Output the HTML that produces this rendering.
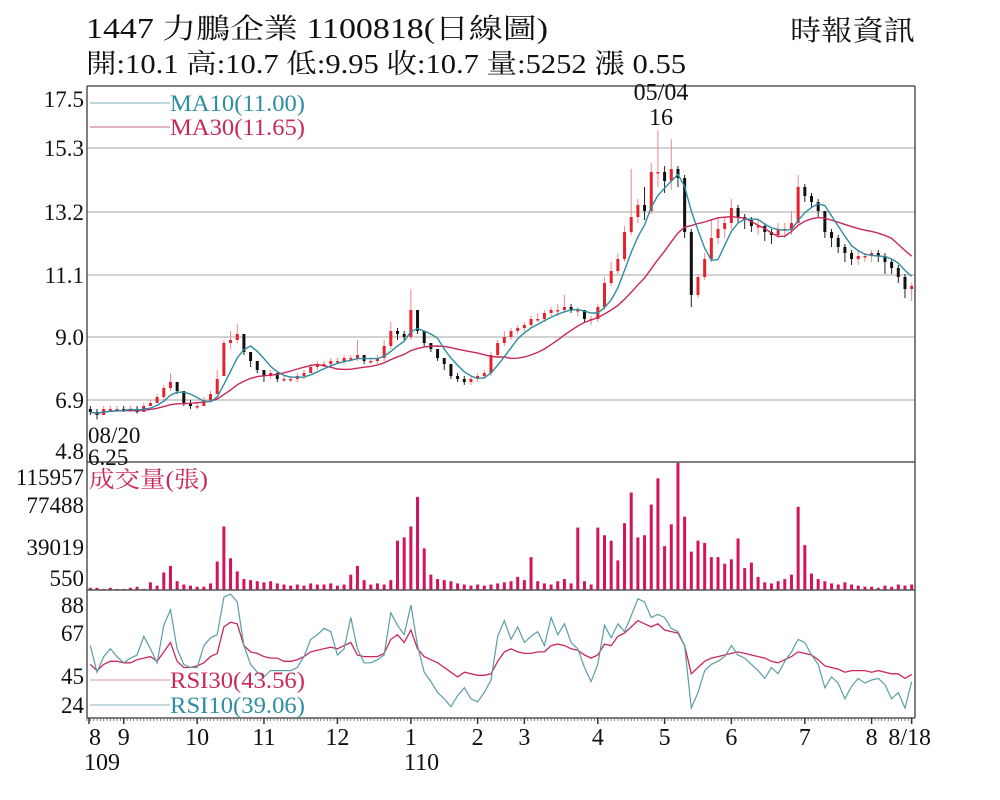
<!DOCTYPE html>
<html><head><meta charset="utf-8">
<style>
html,body{margin:0;padding:0;background:#fff;}
svg{display:block;}
text{font-family:"Liberation Serif","Noto Serif CJK TC","Noto Serif CJK SC",serif;}
</style></head>
<body>
<svg id="chart" width="1000" height="800" viewBox="0 0 1000 800" xmlns="http://www.w3.org/2000/svg">
<rect x="0" y="0" width="1000" height="800" fill="#fff"/>
<text x="86" y="38" font-size="28" fill="#111" textLength="462" lengthAdjust="spacingAndGlyphs">1447  力鵬企業 1100818(日線圖)</text>
<text x="86" y="73" font-size="27" fill="#111" textLength="600" lengthAdjust="spacingAndGlyphs">開:10.1 高:10.7 低:9.95 收:10.7 量:5252 漲 0.55</text>
<text x="790" y="40" font-size="28" fill="#111" textLength="125" lengthAdjust="spacingAndGlyphs">時報資訊</text>
<g id="grid"></g>
<g id="candles"></g>
<g id="ma"></g>
<g id="vol"></g>
<g id="rsi"></g>
<g id="axes"></g>
<g>
<line x1="90" y1="103" x2="170" y2="103" stroke="#7fb2bb" stroke-width="1"/>
<text x="170" y="111" font-size="23" fill="#2c8ea0" textLength="135" lengthAdjust="spacingAndGlyphs">MA10(11.00)</text>
<line x1="90" y1="127" x2="170" y2="127" stroke="#c76a86" stroke-width="1"/>
<text x="170" y="135" font-size="23" fill="#c8285a" textLength="135" lengthAdjust="spacingAndGlyphs">MA30(11.65)</text>
</g>
<text x="661" y="100" font-size="24" fill="#111" text-anchor="middle">05/04</text>
<text x="661" y="125" font-size="24" fill="#111" text-anchor="middle">16</text>
<text x="88" y="443" font-size="23" fill="#111">08/20</text>
<text x="88" y="465" font-size="23" fill="#111">6.25</text>
<text x="89" y="487" font-size="23" fill="#c8285a" textLength="119" lengthAdjust="spacingAndGlyphs">成交量(張)</text>
<g>
<line x1="90" y1="680" x2="170" y2="680" stroke="#d990a8" stroke-width="1"/>
<text x="170" y="688" font-size="23" fill="#c8285a" textLength="135" lengthAdjust="spacingAndGlyphs">RSI30(43.56)</text>
<line x1="90" y1="705" x2="170" y2="705" stroke="#8ab6bd" stroke-width="1"/>
<text x="170" y="713" font-size="23" fill="#2c8ea0" textLength="135" lengthAdjust="spacingAndGlyphs">RSI10(39.06)</text>
</g>
</svg>
<script>
const closes=[6.5,6.4,6.6,6.6,6.6,6.55,6.6,6.5,6.7,6.8,
7.0,7.3,7.5,7.2,6.8,6.7,6.7,6.9,7.1,7.6,
8.8,8.9,9.1,8.5,8.2,7.9,7.7,7.8,7.6,7.6,
7.6,7.7,7.8,8.0,8.1,8.1,8.2,8.2,8.3,8.3,
8.4,8.2,8.2,8.3,8.7,9.2,9.1,9.0,9.9,9.2,
8.8,8.6,8.3,8.1,7.7,7.6,7.5,7.6,7.7,7.8,
8.4,8.8,9.0,9.2,9.3,9.4,9.6,9.6,9.8,9.9,
9.9,10.0,9.9,9.9,9.6,9.6,10.0,10.8,11.2,11.6,
12.5,13.0,13.4,13.2,14.5,14.5,14.2,14.6,14.3,12.5,
10.4,11.0,11.6,12.3,12.6,12.8,13.3,13.0,12.9,12.7,
12.7,12.5,12.4,12.6,12.6,12.8,14.0,13.7,13.5,13.2,
12.5,12.3,12.0,11.8,11.6,11.7,11.7,11.8,11.7,11.5,
11.3,11.0,10.6,10.7];
const opens=[6.6,6.5,6.4,6.6,6.6,6.6,6.55,6.6,6.5,6.7,
6.8,7.0,7.3,7.5,7.2,6.8,6.7,6.7,6.9,7.1,
7.7,8.8,8.9,9.1,8.5,8.2,7.9,7.7,7.8,7.6,
7.6,7.6,7.7,7.8,8.0,8.1,8.1,8.2,8.2,8.3,
8.3,8.4,8.2,8.2,8.3,8.7,9.2,9.1,9.0,9.9,
9.2,8.8,8.6,8.3,8.1,7.7,7.6,7.5,7.6,7.7,
7.8,8.4,8.8,9.0,9.2,9.3,9.4,9.6,9.6,9.8,
9.9,9.9,10.0,9.9,9.9,9.6,9.6,10.0,10.8,11.2,
11.6,12.5,13.0,13.4,13.2,14.5,14.5,14.2,14.6,14.3,
12.5,10.4,11.0,11.6,12.3,12.6,12.8,13.3,13.0,12.9,
12.7,12.7,12.5,12.4,12.6,12.6,12.8,14.0,13.7,13.5,
13.2,12.5,12.3,12.0,11.8,11.6,11.7,11.7,11.8,11.7,
11.5,11.3,11.0,10.6];
const highs=[6.7,6.6,6.7,6.7,6.7,6.7,6.7,6.7,6.8,6.9,
7.1,7.4,7.8,7.5,7.2,6.9,6.8,7.0,7.2,7.9,
8.9,9.2,9.45,9.1,8.5,8.2,7.9,7.9,7.8,7.7,
7.7,7.8,7.9,8.1,8.2,8.2,8.3,8.3,8.4,8.4,
8.9,8.4,8.3,8.4,8.9,9.5,9.3,9.2,10.6,9.9,
9.2,8.8,8.6,8.3,8.1,7.8,7.7,7.7,7.8,7.9,
8.5,8.9,9.2,9.3,9.4,9.5,9.7,9.8,9.9,10.0,
10.1,10.4,10.1,10.0,9.9,9.7,10.1,11.0,11.5,11.8,
12.7,14.6,13.6,14.0,14.8,15.9,14.7,15.6,14.7,14.4,
12.6,11.1,11.8,12.9,13.0,13.0,13.6,13.4,13.1,13.0,
12.9,12.8,12.6,12.8,12.8,13.2,14.4,14.1,13.8,13.6,
13.2,12.6,12.4,12.1,11.9,11.9,11.8,11.9,11.9,11.8,
11.6,11.4,11.1,10.8];
const lows=[6.4,6.25,6.4,6.5,6.5,6.5,6.5,6.45,6.5,6.7,
6.8,6.9,7.2,7.1,6.7,6.6,6.6,6.7,6.9,7.1,
7.7,8.6,8.8,8.4,8.0,7.8,7.5,7.6,7.5,7.5,
7.5,7.5,7.6,7.8,7.9,8.0,8.0,8.1,8.1,8.2,
8.2,8.1,8.1,8.1,8.2,8.6,8.9,8.9,8.9,9.1,
8.7,8.5,8.2,7.9,7.6,7.5,7.4,7.4,7.5,7.6,
7.7,8.3,8.7,8.9,9.1,9.2,9.3,9.5,9.5,9.7,
9.7,9.8,9.8,9.7,9.5,9.4,9.5,9.9,10.7,11.1,
11.5,12.4,12.8,12.9,13.1,14.0,13.8,13.9,14.0,12.3,
10.0,10.3,10.9,11.5,12.1,12.3,12.6,12.8,12.6,12.5,
12.4,12.2,12.1,12.3,12.3,12.4,12.7,13.5,13.3,13.0,
12.3,12.0,11.8,11.5,11.4,11.4,11.5,11.5,11.5,11.1,
11.1,10.8,10.3,10.2];
const volumes=[2,2,1,2,1,1,2,3,1,7,
4,16,22,8,5,4,3,3,6,26,
58,29,17,10,9,8,7,8,6,5,
4,5,4,6,5,5,6,4,5,14,
22,9,5,6,5,9,45,48,58,85,
38,14,10,9,8,6,5,4,5,4,
5,6,7,8,12,9,30,8,6,5,
8,10,6,57,8,5,57,50,45,27,
61,89,48,50,78,102,40,60,116,67,
35,45,43,30,30,24,28,47,20,25,
12,7,6,8,10,14,76,41,15,10,
8,6,5,7,5,4,3,3,2,4,
3,5,4,5];
const rsi10=[62,45,55,60,55,51,54,56,68,60,
51,75,85,60,50,48,48,62,67,69,
93,95,90,62,50,45,42,46,46,46,
46,48,55,66,69,73,71,56,60,80,
60,51,51,53,56,83,75,69,88,62,
45,39,32,28,23,30,35,28,26,32,
40,68,78,66,74,64,68,71,62,80,
69,76,64,60,48,39,50,75,67,76,
71,81,92,90,80,82,80,73,71,62,
22,32,46,50,52,55,62,56,54,50,
46,41,48,44,52,58,66,64,56,50,
35,42,38,28,36,41,38,40,41,37,
28,32,22,39.06];
const rsi30=[50,46,50,52,52,51,51,53,54,55,
52,58,64,52,48,48,49,51,55,57,
74,77,76,62,58,57,55,54,54,52,
52,53,55,58,59,60,61,60,62,64,
56,55,55,55,57,66,69,64,72,60,
55,53,51,48,45,42,45,44,43,43,
44,52,58,60,58,57,57,58,58,62,
63,62,60,59,56,54,56,63,62,68,
70,74,78,76,74,76,72,71,70,62,
44,48,52,54,55,56,57,58,57,56,
55,54,52,51,53,55,58,57,56,53,
49,48,47,45,46,46,46,45,46,45,
44,44,41,43.56];
const priceTicks=["17.5","15.3","13.2","11.1","9.0","6.9","4.8"];
const volTicks=["115957","77488","39019","550"];
const rsiTicks=["88","67","45","24"];
const monthLabels=["8","9","10","11","12","1","2","3","4","5","6","7","8","8/18"];
const monthPos=[0,5,16,26,37,48,58,65,76,86,96,107,117,123];

const NS="http://www.w3.org/2000/svg";
const L=87,R=915,N=closes.length,step=(R-L)/N;
const xs=i=>L+(i+0.5)*step;
const py=v=>337-(v-9)*30;
const vy=v=>590-v/115.957*127;
const ry=v=>705-(v-24)*1.5625;
function mk(tag,attrs,parent){const e=document.createElementNS(NS,tag);for(const k in attrs)e.setAttribute(k,attrs[k]);parent.appendChild(e);return e;}
const G=id=>document.getElementById(id);

[148,212,275,337,400].forEach(y=>{const l=mk('line',{x1:L,y1:y,x2:R,y2:y,stroke:'#c4c4c4','stroke-width':1.5},G('grid'));

});

for(let i=0;i<N;i++){
 const up=closes[i]>=opens[i];const col=up?'#e3222c':'#111';
 const x=xs(i);
 const w=mk('line',{x1:x,y1:py(highs[i]),x2:x,y2:py(lows[i]),stroke:up?'#e88':'#222','stroke-width':1},G('candles'));
 
 
 const t=py(Math.max(opens[i],closes[i])),b=py(Math.min(opens[i],closes[i]));
 const r=mk('rect',{x:x-1.5,y:t,width:3,height:Math.max(1.5,b-t),fill:col},G('candles'));
 
 
}
function ma(n){return closes.map((c,i)=>{const s=closes.slice(Math.max(0,i-n+1),i+1);return s.reduce((a,b)=>a+b,0)/s.length;});}
function poly(vals,fy,color,g,name,w){const p=mk('polyline',{points:vals.map((v,i)=>xs(i).toFixed(1)+','+fy(v).toFixed(1)).join(' '),fill:'none',stroke:color,'stroke-width':w||1.4},g);

}
poly(ma(15),py,'#c8285a',G('ma'),'ma30-line');
poly(ma(5),py,'#2c8ea0',G('ma'),'ma10-line');

volumes.forEach((v,i)=>{const r=mk('rect',{x:xs(i)-1.5,y:vy(v),width:3,height:590-vy(v),fill:'#d4145a'},G('vol'));

});

poly(rsi30,ry,'#c8285a',G('rsi'),'rsi30-line',1.3);
poly(rsi10,ry,'#5a9ea8',G('rsi'),'rsi10-line',1.2);

const ax=G('axes');
[[L,86,L,718],[R,86,R,718],[L,86,R,86],[L,462,R,462],[L,590,R,590],[L,718,R,718]].forEach(a=>{
 const l=mk('line',{x1:a[0],y1:a[1],x2:a[2],y2:a[3],stroke:'#555','stroke-width':1.5},ax);
 
 });
const pY=[99,148,212,275,337,400,451];
priceTicks.forEach((t,i)=>{const e=mk('text',{x:84,y:pY[i]+8,'font-size':23,'text-anchor':'end',fill:'#111'},ax);e.textContent=t;

});
const vY=[477,505,547,578];
volTicks.forEach((t,i)=>{const e=mk('text',{x:84,y:vY[i]+8,'font-size':23,'text-anchor':'end',fill:'#111'},ax);e.textContent=t;

});
const rY=[605,633,676,705];
rsiTicks.forEach((t,i)=>{const e=mk('text',{x:84,y:rY[i]+8,'font-size':23,'text-anchor':'end',fill:'#111'},ax);e.textContent=t;

});
for(let i=0;i<N*2;i++){const x=L+i*step/2;const tk=mk('line',{x1:x,y1:718,x2:x,y2:721,stroke:'#666','stroke-width':0.8},ax);

}
monthLabels.forEach((t,i)=>{const x=i==0?L+2:xs(monthPos[i]);
 const tk=mk('line',{x1:x,y1:718,x2:x,y2:724,stroke:'#333','stroke-width':1.5},ax);
 
 
 const e=mk('text',{x:i==13?x-2:x,y:745,'font-size':24,'text-anchor':i==0?'start':'middle',fill:'#111'},ax);e.textContent=t;
 
 });
[["109",84],["110",404]].forEach(a=>{const e=mk('text',{x:a[1],y:770,'font-size':24,fill:'#111'},ax);e.textContent=a[0];

});
</script>
</body></html>
